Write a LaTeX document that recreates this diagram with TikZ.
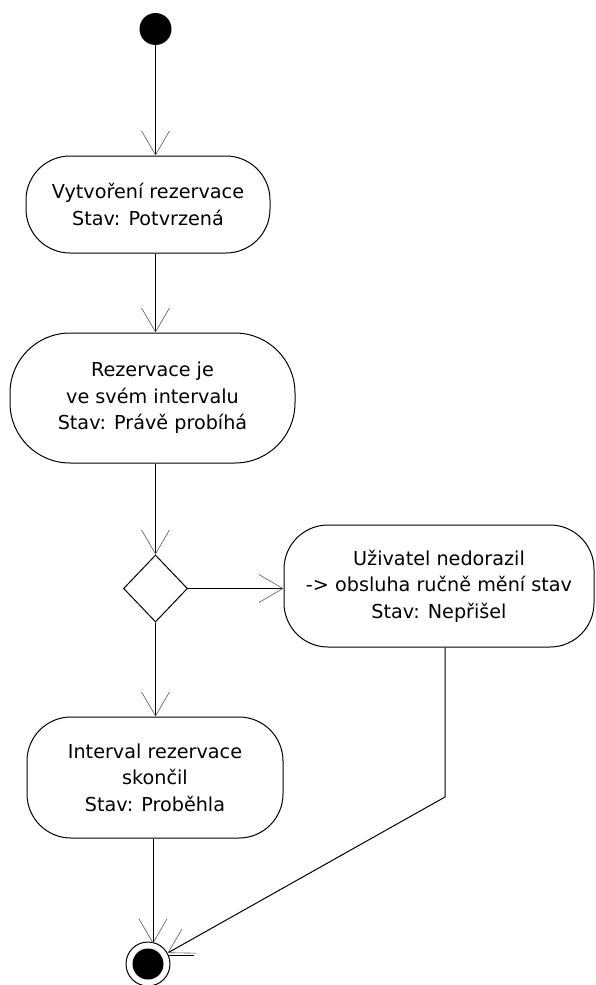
\documentclass[tikz,border=0pt]{standalone}
\usepackage{fontspec}
\setmainfont{DejaVu Sans}
\usetikzlibrary{arrows.meta,shapes.geometric}
\tikzset{
  act/.style={draw, line width=1pt, rounded corners=44pt, inner sep=0pt, align=center,
    font=\fontsize{19.2}{26.5}\selectfont},
  arr/.style={line width=1pt, -{Straight Barb[length=24pt,width=28pt,line width=0.6pt,color=black!65]}},
  plain/.style={line width=1pt}
}
\begin{document}
\begin{tikzpicture}[x=1pt,y=-1pt]
\useasboundingbox (0,0) rectangle (595,985);
\node[circle, fill=black, minimum size=32pt, inner sep=0pt] (start) at (155.5,29) {};
\node[act, minimum width=244pt, minimum height=97pt] (n1) at (148,204.5)
  {Vytvoření rezervace\\Stav: Potvrzená};
\node[act, rounded corners=60pt, minimum width=285pt, minimum height=130pt] (n2) at (152.5,398)
  {Rezervace je\\ve svém intervalu\\Stav: Právě probíhá};
\node[diamond, draw, line width=1pt, aspect=1, inner sep=0pt, minimum width=64pt, minimum height=67pt] (dec) at (155.5,588.5) {};
\node[act, minimum width=310pt, minimum height=122pt] (n3) at (439,586)
  {Uživatel nedorazil\\-> obsluha ručně mění stav\\Stav: Nepřišel};
\node[act, minimum width=256pt, minimum height=121pt] (n4) at (155,777.5)
  {Interval rezervace\\skončil\\Stav: Proběhla};
\node[circle, draw, line width=1pt, minimum size=44pt, inner sep=0pt,
  path picture={\fill[black] (path picture bounding box.center) circle (15.5);}] (end) at (148,964) {};
\coordinate (bend) at (445,797);

\draw[arr] (start) -- (start |- n1.north);
\draw[arr] (start |- n1.south) -- (start |- n2.north);
\draw[arr] (start |- n2.south) -- (dec);
\draw[arr] (dec) -- (dec -| n3.west);
\draw[arr] (dec) -- (dec |- n4.north);
\draw[arr] ([xshift=-2pt]n4.south) -- ([xshift=-2pt,yshift=-2pt]n4.south |- end.north);
\draw[arr] (n3.south -| bend) -- (bend) -- (end);
\draw[plain] (end.22) -- ++(25,0);
\end{tikzpicture}
\end{document}
